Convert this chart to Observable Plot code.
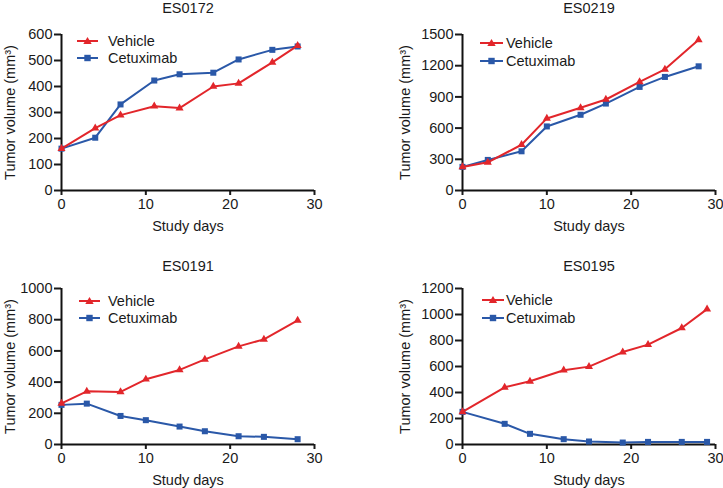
<!DOCTYPE html>
<html><head><meta charset="utf-8">
<script src="https://cdn.jsdelivr.net/npm/d3@7"></script>
<script src="https://cdn.jsdelivr.net/npm/@observablehq/plot@0.6"></script>
<style>
body{margin:0;background:#fff;font-family:"Liberation Sans",Arial,Helvetica,sans-serif;color:#1a1a1a;}
#wrap{position:relative;width:723px;height:488px;overflow:hidden;background:#fff;}
.panel{position:absolute;}
.panel svg{overflow:visible;font-family:"Liberation Sans",Arial,Helvetica,sans-serif;}
.legend{position:absolute;font-size:14px;color:#1a1a1a;white-space:nowrap;}
</style></head><body><div id="wrap"></div>
<script>
// ---- data ----
const titles = ["ES0172", "ES0219", "ES0191", "ES0195"];
const seriesNames = ["Vehicle", "Cetuximab"];
const xTicks = [0, 10, 20, 30];

const days0172 = [0, 4, 7, 11, 14, 18, 21, 25, 28];
const vehicle0172 = [161, 240, 290, 324, 317, 400, 412, 493, 557];
const cetux0172 = [161, 203, 331, 423, 447, 453, 504, 541, 554];
const yTicks0172 = [0, 100, 200, 300, 400, 500, 600];

const days0219 = [0, 3, 7, 10, 14, 17, 21, 24, 28];
const vehicle0219 = [227, 271, 440, 693, 795, 875, 1044, 1165, 1449];
const cetux0219 = [227, 294, 377, 616, 728, 836, 996, 1092, 1194];
const yTicks0219 = [0, 300, 600, 900, 1200, 1500];

const days0191 = [0, 3, 7, 10, 14, 17, 21, 24, 28];
const vehicle0191 = [264, 341, 337, 418, 478, 546, 629, 674, 795];
const cetux0191 = [254, 262, 183, 156, 115, 85, 53, 49, 34];
const yTicks0191 = [0, 200, 400, 600, 800, 1000];

const days0195 = [0, 5, 8, 12, 15, 19, 22, 26, 29];
const vehicle0195 = [251, 440, 486, 571, 599, 711, 768, 896, 1041];
const cetux0195 = [251, 159, 82, 41, 23, 15, 20, 20, 20];
const yTicks0195 = [0, 200, 400, 600, 800, 1000, 1200];

const RED = "#e2262b";
const BLUE = "#2a58a8";

// ---- layout ----
const panels = [
  {title: titles[0], days: days0172, veh: vehicle0172, cet: cetux0172, yTicks: yTicks0172,
   left: 0, top: 0, width: 362, mt: 34, mb: 54, ml: 61, mr: 48, titleDy: -26, ylo: 57,
   leg: {x1: 77, x2: 98, tx: 108, y1: 41, y2: 58}},
  {title: titles[1], days: days0219, veh: vehicle0219, cet: cetux0219, yTicks: yTicks0219,
   left: 362, top: 0, width: 361, mt: 34, mb: 54, ml: 100, mr: 8, titleDy: -26, ylo: 63,
   leg: {x1: 480, x2: 503, tx: 506, y1: 42.5, y2: 61}},
  {title: titles[2], days: days0191, veh: vehicle0191, cet: cetux0191, yTicks: yTicks0191,
   left: 0, top: 244, width: 362, mt: 44, mb: 44, ml: 61, mr: 48, titleDy: -22, ylo: 57,
   leg: {x1: 79, x2: 100, tx: 108, y1: 300.5, y2: 318}},
  {title: titles[3], days: days0195, veh: vehicle0195, cet: cetux0195, yTicks: yTicks0195,
   left: 362, top: 244, width: 361, mt: 44, mb: 44, ml: 100, mr: 8, titleDy: -22, ylo: 63,
   leg: {x1: 482, x2: 504, tx: 506, y1: 300, y2: 318}}
];

const wrap = document.getElementById("wrap");

for (const p of panels) {
  const vehData = p.days.map((d, i) => ({day: d, v: p.veh[i]}));
  const cetData = p.days.map((d, i) => ({day: d, v: p.cet[i]}));
  const yMax = p.yTicks[p.yTicks.length - 1];
  const chart = Plot.plot({
    width: p.width, height: 244,
    marginTop: p.mt, marginBottom: p.mb, marginLeft: p.ml, marginRight: p.mr,
    style: {background: "transparent", color: "#1a1a1a", fontSize: "14px"},
    x: {domain: [0, 30]},
    y: {domain: [0, yMax]},
    marks: [
      Plot.axisX({ticks: xTicks, tickSize: 5, tickPadding: 3, strokeWidth: 2, fontSize: 14.5,
        label: "Study days", labelAnchor: "center", labelOffset: 40, labelArrow: "none", tickFormat: d => String(d)}),
      Plot.axisY({ticks: p.yTicks, tickSize: 7, tickPadding: 2, strokeWidth: 2, fontSize: 14.5,
        label: "Tumor volume (mm³)", labelAnchor: "center", labelOffset: p.ylo, labelArrow: "none", tickFormat: d => String(d)}),
      Plot.ruleX([0], {y1: 0, y2: yMax, strokeWidth: 2, stroke: "#111"}),
      Plot.ruleY([0], {x1: 0, x2: 30, strokeWidth: 2, stroke: "#111"}),
      Plot.line(cetData, {x: "day", y: "v", stroke: BLUE, strokeWidth: 2}),
      Plot.dot(cetData, {x: "day", y: "v", symbol: "square", r: 3.4, fill: BLUE, stroke: "none"}),
      Plot.line(vehData, {x: "day", y: "v", stroke: RED, strokeWidth: 2}),
      Plot.dot(vehData, {x: "day", y: "v", symbol: "triangle", r: 3, fill: RED, stroke: "none"}),
      Plot.text([p.title], {text: d => d, frameAnchor: "top", lineAnchor: "middle", dy: p.titleDy, fontSize: 14.5, fill: "#1a1a1a"})
    ]
  });
  const div = document.createElement("div");
  div.className = "panel";
  div.style.left = p.left + "px";
  div.style.top = p.top + "px";
  div.appendChild(chart);
  wrap.appendChild(div);

  // legend (HTML overlay)
  const L = p.leg;
  const rows = [
    {name: seriesNames[0], color: RED, y: L.y1, sym: "tri"},
    {name: seriesNames[1], color: BLUE, y: L.y2, sym: "sq"}
  ];
  for (const r of rows) {
    const row = document.createElement("div");
    row.className = "legend";
    row.style.left = L.x1 + "px";
    row.style.top = (r.y - 9) + "px";
    row.style.height = "18px";
    row.style.display = "flex";
    row.style.alignItems = "center";
    const w = L.x2 - L.x1;
    const mid = w / 2;
    const symSvg = r.sym === "tri"
      ? `<path d="M${mid},5 L${mid + 4.2},12 L${mid - 4.2},12 Z" fill="${r.color}"/>`
      : `<rect x="${mid - 3.2}" y="5.8" width="6.4" height="6.4" fill="${r.color}"/>`;
    row.innerHTML = `<svg width="${w}" height="18" style="display:block"><line x1="0" x2="${w}" y1="9" y2="9" stroke="${r.color}" stroke-width="2"/>${symSvg}</svg>` +
      `<span style="margin-left:${L.tx - L.x2}px;line-height:18px;font-size:14.5px">${r.name}</span>`;
    wrap.appendChild(row);
  }
}
</script>
</body></html>
